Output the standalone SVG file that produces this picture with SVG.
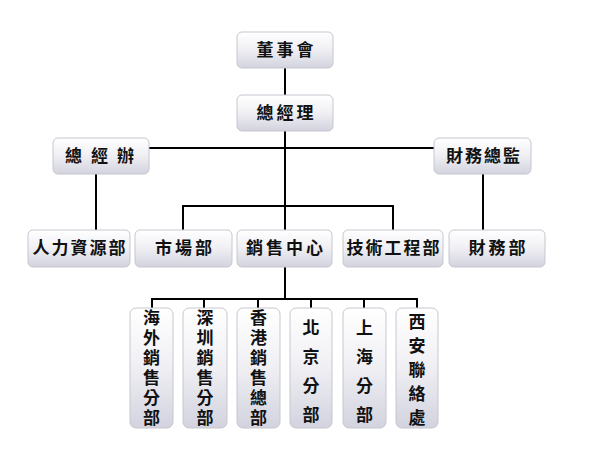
<svg xmlns="http://www.w3.org/2000/svg" width="600" height="449" viewBox="0 0 600 449">
<defs>
<linearGradient id="g" x1="0" y1="0" x2="0" y2="1">
<stop offset="0" stop-color="#ffffff"/>
<stop offset="0.45" stop-color="#f1f1f5"/>
<stop offset="1" stop-color="#d3d3df"/>
</linearGradient>
<style>
.b{fill:url(#g);stroke:#c6c6d0;stroke-width:1}
.t{font-family:"Noto Sans CJK TC","Noto Sans CJK SC",sans-serif;font-size:17px;font-weight:bold;fill:#111;text-anchor:middle;letter-spacing:3px}
.v{font-family:"Noto Sans CJK TC","Noto Sans CJK SC",sans-serif;font-size:17px;font-weight:bold;fill:#111;text-anchor:middle;writing-mode:vertical-rl;text-orientation:upright;letter-spacing:3px}
.c{stroke:#000;stroke-width:2;fill:none}
</style>
</defs>
<rect width="600" height="449" fill="#fff"/>
<g id="connectors">
<path class="c" d="M285 68V95M285 131V230M149 148H434M96 174V230M483 174V230M183 230V206H393V230M285 267V299M152 308V299H417V308M204 299V308M258 299V308M311 299V308M364 299V308"/>
</g>
<g id="n1"><rect class="b" x="237" y="32" width="96" height="36" rx="5"/><text class="t" x="286.5" y="56">董事會</text></g>
<g id="n2"><rect class="b" x="237" y="95" width="96" height="36" rx="5"/><text class="t" x="286.5" y="119">總經理</text></g>
<g id="n3"><rect class="b" x="53" y="138" width="96" height="36" rx="5"/><text class="t" x="104" y="162" style="letter-spacing:9px">總經辦</text></g>
<g id="n4"><rect class="b" x="434" y="138" width="97" height="36" rx="5"/><text class="t" x="484" y="162" style="letter-spacing:2px">財務總監</text></g>
<g id="n5"><rect class="b" x="28" y="230" width="102" height="37" rx="5"/><text class="t" x="80" y="254" style="letter-spacing:2px">人力資源部</text></g>
<g id="n6"><rect class="b" x="135" y="230" width="97" height="37" rx="5"/><text class="t" x="185" y="254">市場部</text></g>
<g id="n7"><rect class="b" x="237" y="230" width="95" height="37" rx="5"/><text class="t" x="286" y="254">銷售中心</text></g>
<g id="n8"><rect class="b" x="343" y="230" width="100" height="37" rx="5"/><text class="t" x="394" y="254" style="letter-spacing:2px">技術工程部</text></g>
<g id="n9"><rect class="b" x="449" y="230" width="96" height="37" rx="5"/><text class="t" x="498.5" y="254">財務部</text></g>
<g id="n10"><rect class="b" x="130" y="308" width="43" height="120" rx="6"/><text class="v" x="151.5" y="369">海外銷售分部</text></g>
<g id="n11"><rect class="b" x="183" y="308" width="44" height="120" rx="6"/><text class="v" x="205" y="369">深圳銷售分部</text></g>
<g id="n12"><rect class="b" x="237" y="308" width="43" height="120" rx="6"/><text class="v" x="258.5" y="369">香港銷售總部</text></g>
<g id="n13"><rect class="b" x="290" y="308" width="42" height="120" rx="6"/><text class="v" x="311" y="377" style="letter-spacing:12px">北京分部</text></g>
<g id="n14"><rect class="b" x="343" y="308" width="43" height="120" rx="6"/><text class="v" x="364.5" y="377" style="letter-spacing:12px">上海分部</text></g>
<g id="n15"><rect class="b" x="396" y="308" width="42" height="120" rx="6"/><text class="v" x="417" y="373" style="letter-spacing:7px">西安聯絡處</text></g>
</svg>
